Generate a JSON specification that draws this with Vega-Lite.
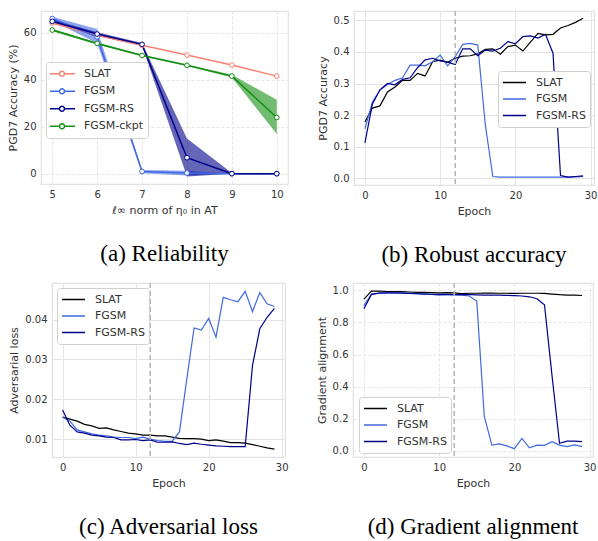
{
  "$schema": "https://vega.github.io/schema/vega-lite/v6.json",
  "padding": {"left": 6, "top": 9, "right": 0, "bottom": 0},
  "background": "white",
  "spacing": 12,
  "resolve": {"scale": {"color": "independent", "x": "independent", "y": "independent"}, "legend": {"color": "independent"}},
  "config": {
    "view": {"stroke": "#e2e2e2", "strokeWidth": 1.2},
    "axis": {
      "domain": false, "ticks": false, "labelPadding": 5, "titlePadding": 5,
      "labelFont": "DejaVu Sans", "labelFontSize": 10, "labelColor": "#333333",
      "titleFont": "DejaVu Sans", "titleFontSize": 11, "titleFontWeight": "normal", "titleColor": "#333333",
      "gridColor": "#e4e4e4", "gridWidth": 1
    },
    "legend": {
      "orient": "none", "fillColor": "white", "strokeColor": "#d0d0d0", "cornerRadius": 3,
      "padding": 4, "labelFont": "DejaVu Sans", "labelFontSize": 11, "labelColor": "#333333",
      "symbolStrokeWidth": 1.5, "labelOffset": 9, "title": null, "clipHeight": 15, "rowPadding": 1.5
    },
    "title": {"orient": "bottom", "font": "Liberation Serif", "fontSize": 23, "fontWeight": "normal", "color": "#000000", "offset": 28, "anchor": "middle"}
  },
  "datasets": {
    "rel": [
      {"method": "SLAT", "eps": 5, "acc": 64.1, "lo": 64.1, "hi": 64.1},
      {"method": "SLAT", "eps": 6, "acc": 58.9, "lo": 58.9, "hi": 58.9},
      {"method": "SLAT", "eps": 7, "acc": 54.6, "lo": 54.6, "hi": 54.6},
      {"method": "SLAT", "eps": 8, "acc": 50.5, "lo": 50.5, "hi": 50.5},
      {"method": "SLAT", "eps": 9, "acc": 46.2, "lo": 46.2, "hi": 46.2},
      {"method": "SLAT", "eps": 10, "acc": 41.5, "lo": 41.5, "hi": 41.5},
      {"method": "FGSM", "eps": 5, "acc": 66.0, "lo": 65.0, "hi": 66.8},
      {"method": "FGSM", "eps": 6, "acc": 58.2, "lo": 55.5, "hi": 61.5},
      {"method": "FGSM", "eps": 7, "acc": 0.9, "lo": 0.2, "hi": 1.6},
      {"method": "FGSM", "eps": 8, "acc": 0.3, "lo": -0.8, "hi": 1.2},
      {"method": "FGSM", "eps": 9, "acc": 0.0, "lo": 0.0, "hi": 0.0},
      {"method": "FGSM", "eps": 10, "acc": 0.0, "lo": 0.0, "hi": 0.0},
      {"method": "FGSM-RS", "eps": 5, "acc": 64.8, "lo": 64.0, "hi": 65.6},
      {"method": "FGSM-RS", "eps": 6, "acc": 59.4, "lo": 58.6, "hi": 60.2},
      {"method": "FGSM-RS", "eps": 7, "acc": 55.0, "lo": 54.4, "hi": 55.6},
      {"method": "FGSM-RS", "eps": 8, "acc": 6.8, "lo": -1.2, "hi": 15.0},
      {"method": "FGSM-RS", "eps": 9, "acc": 0.0, "lo": 0.0, "hi": 0.3},
      {"method": "FGSM-RS", "eps": 10, "acc": 0.0, "lo": 0.0, "hi": 0.0},
      {"method": "FGSM-ckpt", "eps": 5, "acc": 61.1, "lo": 60.6, "hi": 61.6},
      {"method": "FGSM-ckpt", "eps": 6, "acc": 55.4, "lo": 55.0, "hi": 55.8},
      {"method": "FGSM-ckpt", "eps": 7, "acc": 50.3, "lo": 49.9, "hi": 50.7},
      {"method": "FGSM-ckpt", "eps": 8, "acc": 46.1, "lo": 45.8, "hi": 46.4},
      {"method": "FGSM-ckpt", "eps": 9, "acc": 41.5, "lo": 40.9, "hi": 42.1},
      {"method": "FGSM-ckpt", "eps": 10, "acc": 23.9, "lo": 16.9, "hi": 31.4}
    ],
    "curves": [
      {"method": "SLAT", "epoch": 0, "acc": 0.178, "loss": 0.0155, "align": 0.945},
      {"method": "SLAT", "epoch": 1, "acc": 0.222, "loss": 0.0150, "align": 0.995},
      {"method": "SLAT", "epoch": 2, "acc": 0.229, "loss": 0.0145, "align": 0.995},
      {"method": "SLAT", "epoch": 3, "acc": 0.273, "loss": 0.0137, "align": 0.993},
      {"method": "SLAT", "epoch": 4, "acc": 0.289, "loss": 0.0133, "align": 0.993},
      {"method": "SLAT", "epoch": 5, "acc": 0.310, "loss": 0.0127, "align": 0.992},
      {"method": "SLAT", "epoch": 6, "acc": 0.310, "loss": 0.0128, "align": 0.990},
      {"method": "SLAT", "epoch": 7, "acc": 0.332, "loss": 0.0123, "align": 0.988},
      {"method": "SLAT", "epoch": 8, "acc": 0.324, "loss": 0.0119, "align": 0.987},
      {"method": "SLAT", "epoch": 9, "acc": 0.369, "loss": 0.0115, "align": 0.986},
      {"method": "SLAT", "epoch": 10, "acc": 0.374, "loss": 0.0113, "align": 0.985},
      {"method": "SLAT", "epoch": 11, "acc": 0.367, "loss": 0.0110, "align": 0.986},
      {"method": "SLAT", "epoch": 12, "acc": 0.380, "loss": 0.0110, "align": 0.984},
      {"method": "SLAT", "epoch": 13, "acc": 0.387, "loss": 0.0108, "align": 0.980},
      {"method": "SLAT", "epoch": 14, "acc": 0.388, "loss": 0.0108, "align": 0.982},
      {"method": "SLAT", "epoch": 15, "acc": 0.394, "loss": 0.0105, "align": 0.982},
      {"method": "SLAT", "epoch": 16, "acc": 0.408, "loss": 0.0102, "align": 0.983},
      {"method": "SLAT", "epoch": 17, "acc": 0.410, "loss": 0.0101, "align": 0.983},
      {"method": "SLAT", "epoch": 18, "acc": 0.393, "loss": 0.0101, "align": 0.982},
      {"method": "SLAT", "epoch": 19, "acc": 0.417, "loss": 0.0100, "align": 0.982},
      {"method": "SLAT", "epoch": 20, "acc": 0.422, "loss": 0.0096, "align": 0.981},
      {"method": "SLAT", "epoch": 21, "acc": 0.403, "loss": 0.0098, "align": 0.982},
      {"method": "SLAT", "epoch": 22, "acc": 0.431, "loss": 0.0095, "align": 0.982},
      {"method": "SLAT", "epoch": 23, "acc": 0.459, "loss": 0.0091, "align": 0.982},
      {"method": "SLAT", "epoch": 24, "acc": 0.454, "loss": 0.0091, "align": 0.981},
      {"method": "SLAT", "epoch": 25, "acc": 0.456, "loss": 0.0090, "align": 0.977},
      {"method": "SLAT", "epoch": 26, "acc": 0.476, "loss": 0.0086, "align": 0.973},
      {"method": "SLAT", "epoch": 27, "acc": 0.484, "loss": 0.0082, "align": 0.971},
      {"method": "SLAT", "epoch": 28, "acc": 0.494, "loss": 0.0078, "align": 0.970},
      {"method": "SLAT", "epoch": 29, "acc": 0.507, "loss": 0.0075, "align": 0.968},
      {"method": "FGSM", "epoch": 0, "acc": 0.156, "loss": 0.0155, "align": 0.905},
      {"method": "FGSM", "epoch": 1, "acc": 0.241, "loss": 0.0145, "align": 0.975},
      {"method": "FGSM", "epoch": 2, "acc": 0.279, "loss": 0.0123, "align": 0.983},
      {"method": "FGSM", "epoch": 3, "acc": 0.297, "loss": 0.0118, "align": 0.985},
      {"method": "FGSM", "epoch": 4, "acc": 0.310, "loss": 0.0113, "align": 0.985},
      {"method": "FGSM", "epoch": 5, "acc": 0.318, "loss": 0.0110, "align": 0.984},
      {"method": "FGSM", "epoch": 6, "acc": 0.358, "loss": 0.0108, "align": 0.982},
      {"method": "FGSM", "epoch": 7, "acc": 0.358, "loss": 0.0105, "align": 0.980},
      {"method": "FGSM", "epoch": 8, "acc": 0.356, "loss": 0.0104, "align": 0.978},
      {"method": "FGSM", "epoch": 9, "acc": 0.369, "loss": 0.0104, "align": 0.975},
      {"method": "FGSM", "epoch": 10, "acc": 0.390, "loss": 0.0101, "align": 0.970},
      {"method": "FGSM", "epoch": 11, "acc": 0.356, "loss": 0.0105, "align": 0.972},
      {"method": "FGSM", "epoch": 12, "acc": 0.385, "loss": 0.0100, "align": 0.972},
      {"method": "FGSM", "epoch": 13, "acc": 0.424, "loss": 0.0096, "align": 0.970},
      {"method": "FGSM", "epoch": 14, "acc": 0.427, "loss": 0.0094, "align": 0.965},
      {"method": "FGSM", "epoch": 15, "acc": 0.422, "loss": 0.0095, "align": 0.933},
      {"method": "FGSM", "epoch": 16, "acc": 0.170, "loss": 0.0118, "align": 0.215},
      {"method": "FGSM", "epoch": 17, "acc": 0.005, "loss": 0.0250, "align": 0.035},
      {"method": "FGSM", "epoch": 18, "acc": 0.003, "loss": 0.0379, "align": 0.043},
      {"method": "FGSM", "epoch": 19, "acc": 0.003, "loss": 0.0374, "align": 0.030},
      {"method": "FGSM", "epoch": 20, "acc": 0.003, "loss": 0.0403, "align": 0.013},
      {"method": "FGSM", "epoch": 21, "acc": 0.003, "loss": 0.0356, "align": 0.077},
      {"method": "FGSM", "epoch": 22, "acc": 0.003, "loss": 0.0456, "align": 0.018},
      {"method": "FGSM", "epoch": 23, "acc": 0.003, "loss": 0.0450, "align": 0.035},
      {"method": "FGSM", "epoch": 24, "acc": 0.003, "loss": 0.0445, "align": 0.034},
      {"method": "FGSM", "epoch": 25, "acc": 0.003, "loss": 0.0471, "align": 0.056},
      {"method": "FGSM", "epoch": 26, "acc": 0.003, "loss": 0.0420, "align": 0.035},
      {"method": "FGSM", "epoch": 27, "acc": 0.003, "loss": 0.0468, "align": 0.026},
      {"method": "FGSM", "epoch": 28, "acc": 0.004, "loss": 0.0440, "align": 0.036},
      {"method": "FGSM", "epoch": 29, "acc": 0.005, "loss": 0.0433, "align": 0.026},
      {"method": "FGSM-RS", "epoch": 0, "acc": 0.112, "loss": 0.0173, "align": 0.885},
      {"method": "FGSM-RS", "epoch": 1, "acc": 0.235, "loss": 0.0135, "align": 0.975},
      {"method": "FGSM-RS", "epoch": 2, "acc": 0.280, "loss": 0.0118, "align": 0.983},
      {"method": "FGSM-RS", "epoch": 3, "acc": 0.300, "loss": 0.0115, "align": 0.985},
      {"method": "FGSM-RS", "epoch": 4, "acc": 0.296, "loss": 0.0110, "align": 0.984},
      {"method": "FGSM-RS", "epoch": 5, "acc": 0.313, "loss": 0.0108, "align": 0.983},
      {"method": "FGSM-RS", "epoch": 6, "acc": 0.318, "loss": 0.0105, "align": 0.981},
      {"method": "FGSM-RS", "epoch": 7, "acc": 0.350, "loss": 0.0104, "align": 0.979},
      {"method": "FGSM-RS", "epoch": 8, "acc": 0.375, "loss": 0.0098, "align": 0.977},
      {"method": "FGSM-RS", "epoch": 9, "acc": 0.380, "loss": 0.0098, "align": 0.976},
      {"method": "FGSM-RS", "epoch": 10, "acc": 0.372, "loss": 0.0099, "align": 0.975},
      {"method": "FGSM-RS", "epoch": 11, "acc": 0.368, "loss": 0.0096, "align": 0.975},
      {"method": "FGSM-RS", "epoch": 12, "acc": 0.360, "loss": 0.0098, "align": 0.974},
      {"method": "FGSM-RS", "epoch": 13, "acc": 0.410, "loss": 0.0092, "align": 0.974},
      {"method": "FGSM-RS", "epoch": 14, "acc": 0.410, "loss": 0.0092, "align": 0.973},
      {"method": "FGSM-RS", "epoch": 15, "acc": 0.388, "loss": 0.0093, "align": 0.972},
      {"method": "FGSM-RS", "epoch": 16, "acc": 0.406, "loss": 0.0089, "align": 0.971},
      {"method": "FGSM-RS", "epoch": 17, "acc": 0.403, "loss": 0.0086, "align": 0.970},
      {"method": "FGSM-RS", "epoch": 18, "acc": 0.412, "loss": 0.0090, "align": 0.970},
      {"method": "FGSM-RS", "epoch": 19, "acc": 0.433, "loss": 0.0087, "align": 0.969},
      {"method": "FGSM-RS", "epoch": 20, "acc": 0.426, "loss": 0.0085, "align": 0.967},
      {"method": "FGSM-RS", "epoch": 21, "acc": 0.449, "loss": 0.0083, "align": 0.965},
      {"method": "FGSM-RS", "epoch": 22, "acc": 0.451, "loss": 0.0082, "align": 0.960},
      {"method": "FGSM-RS", "epoch": 23, "acc": 0.444, "loss": 0.0081, "align": 0.948},
      {"method": "FGSM-RS", "epoch": 24, "acc": 0.456, "loss": 0.0081, "align": 0.910},
      {"method": "FGSM-RS", "epoch": 25, "acc": 0.396, "loss": 0.0081, "align": 0.470},
      {"method": "FGSM-RS", "epoch": 26, "acc": 0.008, "loss": 0.0285, "align": 0.047},
      {"method": "FGSM-RS", "epoch": 27, "acc": 0.003, "loss": 0.0377, "align": 0.060},
      {"method": "FGSM-RS", "epoch": 28, "acc": 0.005, "loss": 0.0406, "align": 0.060},
      {"method": "FGSM-RS", "epoch": 29, "acc": 0.007, "loss": 0.0428, "align": 0.057}
    ]
  },
  "vconcat": [
    {
      "spacing": 27,
      "resolve": {"scale": {"color": "independent"}, "legend": {"color": "independent"}},
      "hconcat": [
        {
          "width": 247, "height": 173,
          "title": {"text": "(a) Reliability"},
          "data": {"name": "rel"},
          "encoding": {
            "x": {"field": "eps", "type": "quantitative", "scale": {"domain": [4.75, 10.25], "nice": false, "zero": false}, "axis": {"values": [5, 6, 7, 8, 9, 10], "title": "ℓ∞ norm of η₀ in AT", "gridDash": [3, 2]}}
          },
          "layer": [
            {
              "transform": [{"filter": "datum.method == 'FGSM'"}],
              "mark": {"type": "area", "opacity": 0.6, "color": "#4169e1"},
              "encoding": {
                "y": {"field": "lo", "type": "quantitative", "scale": {"domain": [-4.4, 69.2], "nice": false}, "axis": {"values": [0, 20, 40, 60], "title": "PGD7 Accuracy (%)", "gridDash": [3, 2]}},
                "y2": {"field": "hi"}
              }
            },
            {
              "transform": [{"filter": "datum.method == 'FGSM-RS'"}],
              "mark": {"type": "area", "opacity": 0.6, "color": "#00008b"},
              "encoding": {"y": {"field": "lo", "type": "quantitative"}, "y2": {"field": "hi"}}
            },
            {
              "transform": [{"filter": "datum.method == 'FGSM-ckpt'"}],
              "mark": {"type": "area", "opacity": 0.6, "color": "#138f13"},
              "encoding": {"y": {"field": "lo", "type": "quantitative"}, "y2": {"field": "hi"}}
            },
            {
              "mark": {"type": "line", "strokeWidth": 1.5, "point": {"filled": false, "fill": "white", "size": 22, "strokeWidth": 1}},
              "encoding": {
                "y": {"field": "acc", "type": "quantitative"},
                "color": {"field": "method", "type": "nominal", "sort": ["SLAT", "FGSM", "FGSM-RS", "FGSM-ckpt"], "scale": {"domain": ["SLAT", "FGSM", "FGSM-RS", "FGSM-ckpt"], "range": ["#fa8072", "#4169e1", "#00008b", "#138f13"]},
                  "legend": {"legendX": 5, "legendY": 51, "symbolType": "M-1.16,0L-0.22,0M0.22,0L1.16,0M0.22,0A0.22,0.22,0,1,1,-0.22,0A0.22,0.22,0,1,1,0.22,0", "symbolSize": 506, "symbolStrokeWidth": 1.5, "symbolFillColor": "white", "labelOffset": 10, "clipHeight": 15.5}}
              }
            }
          ]
        },
        {
          "width": 240, "height": 174,
          "title": {"text": "(b) Robust accuracy"},
          "layer": [
            {
              "data": {"name": "curves"},
              "mark": {"type": "line", "strokeWidth": 1.2},
              "encoding": {
                "x": {"field": "epoch", "type": "quantitative", "scale": {"domain": [-1.45, 30.45], "nice": false, "zero": false}, "axis": {"values": [0, 5, 10, 15, 20, 25, 30], "title": "Epoch"}},
                "y": {"field": "acc", "type": "quantitative", "scale": {"domain": [-0.022, 0.53], "nice": false}, "axis": {"values": [0, 0.1, 0.2, 0.3, 0.4, 0.5], "format": ".1f", "title": "PGD7 Accuracy"}},
                "color": {"field": "method", "type": "nominal", "sort": ["SLAT", "FGSM", "FGSM-RS"], "scale": {"domain": ["SLAT", "FGSM", "FGSM-RS"], "range": ["#000000", "#4169e1", "#00008b"]},
                  "legend": {"legendX": 144, "legendY": 60, "symbolType": "stroke", "symbolSize": 529}}
              }
            },
            {
              "data": {"values": [{"epoch": 12}]},
              "mark": {"type": "rule", "color": "#b5b5b5", "strokeWidth": 1.5, "strokeDash": [5, 3]},
              "encoding": {"x": {"field": "epoch", "type": "quantitative"}}
            }
          ]
        }
      ]
    },
    {
      "spacing": -37,
      "resolve": {"scale": {"color": "independent"}, "legend": {"color": "independent"}},
      "hconcat": [
        {
          "width": 1, "height": 1,
          "view": {"stroke": null},
          "data": {"values": [{"k": 0}]},
          "mark": {"type": "point", "opacity": 0},
          "encoding": {}
        },
        {
          "spacing": 26,
          "resolve": {"scale": {"color": "independent"}, "legend": {"color": "independent"}},
          "hconcat": [
            {
              "width": 233, "height": 174,
              "title": {"text": "(c) Adversarial loss"},
              "layer": [
                {
                  "data": {"name": "curves"},
                  "mark": {"type": "line", "strokeWidth": 1.2},
                  "encoding": {
                    "x": {"field": "epoch", "type": "quantitative", "scale": {"domain": [-1.45, 30.45], "nice": false, "zero": false}, "axis": {"values": [0, 10, 20, 30], "title": "Epoch"}},
                    "y": {"field": "loss", "type": "quantitative", "scale": {"domain": [0.0055, 0.0492], "nice": false, "zero": false}, "axis": {"values": [0.01, 0.02, 0.03, 0.04], "format": ".2f", "title": "Adversarial loss"}},
                    "color": {"field": "method", "type": "nominal", "sort": ["SLAT", "FGSM", "FGSM-RS"], "scale": {"domain": ["SLAT", "FGSM", "FGSM-RS"], "range": ["#000000", "#4169e1", "#00008b"]},
                      "legend": {"legendX": 5, "legendY": 5, "symbolType": "stroke", "symbolSize": 529}}
                  }
                },
                {
                  "data": {"values": [{"epoch": 12}]},
                  "mark": {"type": "rule", "color": "#b5b5b5", "strokeWidth": 1.5, "strokeDash": [5, 3]},
                  "encoding": {"x": {"field": "epoch", "type": "quantitative"}}
                }
              ]
            },
            {
              "width": 240, "height": 174,
              "title": {"text": "(d) Gradient alignment"},
              "layer": [
                {
                  "data": {"name": "curves"},
                  "mark": {"type": "line", "strokeWidth": 1.2},
                  "encoding": {
                    "x": {"field": "epoch", "type": "quantitative", "scale": {"domain": [-1.45, 30.45], "nice": false, "zero": false}, "axis": {"values": [0, 5, 10, 15, 20, 25, 30], "title": "Epoch", "gridDash": [3, 2]}},
                    "y": {"field": "align", "type": "quantitative", "scale": {"domain": [-0.039, 1.046], "nice": false}, "axis": {"values": [0, 0.2, 0.4, 0.6, 0.8, 1.0], "format": ".1f", "title": "Gradient alignment", "gridDash": [3, 2]}},
                    "color": {"field": "method", "type": "nominal", "sort": ["SLAT", "FGSM", "FGSM-RS"], "scale": {"domain": ["SLAT", "FGSM", "FGSM-RS"], "range": ["#000000", "#4169e1", "#00008b"]},
                      "legend": {"legendX": 6, "legendY": 114, "symbolType": "stroke", "symbolSize": 529}}
                  }
                },
                {
                  "data": {"values": [{"epoch": 12}]},
                  "mark": {"type": "rule", "color": "#b5b5b5", "strokeWidth": 1.5, "strokeDash": [5, 3]},
                  "encoding": {"x": {"field": "epoch", "type": "quantitative"}}
                }
              ]
            }
          ]
        }
      ]
    }
  ]
}
